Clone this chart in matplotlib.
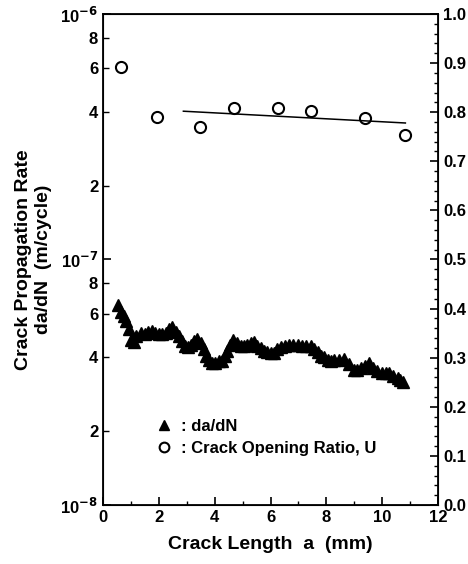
import matplotlib.pyplot as plt
import numpy as np
from matplotlib.ticker import LogLocator, MultipleLocator, FuncFormatter
from matplotlib.lines import Line2D

plt.rcParams['font.family'] = ['Liberation Sans', 'DejaVu Sans']
plt.rcParams['font.weight'] = 'bold'

# crack growth rate (triangles)
a_rate = [0.55, 0.66, 0.75, 0.84, 0.95, 1.02, 1.1, 1.2, 1.35, 1.5, 1.62, 1.75, 1.88, 2.0,
          2.12, 2.25, 2.38, 2.47, 2.6, 2.71, 2.83, 2.95, 3.05, 3.15, 3.27, 3.37, 3.5,
          3.61, 3.7, 3.79, 3.9, 4.03, 4.15, 4.27, 4.37, 4.45, 4.55, 4.67, 4.8, 4.93,
          5.05, 5.17, 5.3, 5.41, 5.53, 5.65, 5.77, 5.89, 6.01, 6.13, 6.25, 6.37, 6.52,
          6.67, 6.82, 6.97, 7.12, 7.27, 7.45, 7.57, 7.69, 7.8, 7.93, 8.05, 8.17, 8.28,
          8.45, 8.64, 8.8, 9.0, 9.1, 9.23, 9.38, 9.53, 9.68, 9.83, 10.0, 10.12, 10.25,
          10.4, 10.55, 10.65, 10.73]
dadn = [6.5, 6.1, 5.9, 5.6, 5.2, 4.7, 4.6, 4.9, 5.0, 4.95, 5.05, 5.1, 5.0, 4.95,
        4.95, 5.0, 5.2, 5.3, 5.05, 4.9, 4.65, 4.45, 4.4, 4.5, 4.65, 4.75, 4.55,
        4.3, 4.05, 3.9, 3.8, 3.8, 3.85, 3.85, 4.05, 4.25, 4.5, 4.7, 4.55, 4.45,
        4.45, 4.5, 4.55, 4.6, 4.45, 4.35, 4.25, 4.2, 4.15, 4.15, 4.3, 4.4, 4.45,
        4.5, 4.5, 4.5, 4.45, 4.45, 4.45, 4.3, 4.2, 4.05, 4.0, 3.9, 3.85, 3.9,
        3.9, 3.95, 3.75, 3.55, 3.55, 3.6, 3.7, 3.8, 3.6, 3.5, 3.45, 3.45, 3.45,
        3.35, 3.28, 3.22, 3.18]
dadn = np.array(dadn) * 1e-8

# crack opening ratio U (circles)
a_u = [0.65, 1.94, 3.49, 4.68, 6.26, 7.45, 9.39, 10.8]
u_vals = [0.892, 0.79, 0.77, 0.809, 0.809, 0.802, 0.788, 0.754]

# fitted line for U
fit_a = [2.88, 10.83]
fit_u = [0.802, 0.778]

fig = plt.figure(figsize=(4.68, 5.64), dpi=100)
ax = fig.add_axes([0.220, 0.1046, 0.716, 0.8706])
ax2 = ax.twinx()

ax.plot(a_rate, dadn, ls='none', marker='^', ms=9, color='black')
ax2.plot(a_u, u_vals, ls='none', marker='o', ms=8, mfc='white', mec='black', mew=1.5)
ax2.plot(fit_a, fit_u, color='black', lw=1.1)

ax.set_yscale('log')
ax.set_ylim(1e-8, 1e-6)
ax.set_xlim(0, 12)
ax2.set_ylim(0, 1.0)

ax.xaxis.set_major_locator(MultipleLocator(2))
ax.xaxis.set_minor_locator(MultipleLocator(1))
ax.yaxis.set_major_locator(LogLocator(base=10, numticks=5))
ax.yaxis.set_minor_locator(LogLocator(base=10, subs=[2, 4, 6, 8], numticks=20))


def major_fmt(v, pos):
    return r'10$^{%d}$' % int(round(np.log10(v)))


def minor_fmt(v, pos):
    d = int(round(v / 10 ** np.floor(np.log10(v) + 1e-9)))
    return str(d)


ax.yaxis.set_major_formatter(FuncFormatter(major_fmt))
ax.yaxis.set_minor_formatter(FuncFormatter(minor_fmt))

ax2.yaxis.set_major_locator(MultipleLocator(0.1))
ax2.yaxis.set_minor_locator(MultipleLocator(0.02))
ax2.yaxis.set_major_formatter(FuncFormatter(lambda v, p: '%.1f' % v))

ax.tick_params(axis='both', which='both', direction='in', labelsize=12, top=False)
ax.tick_params(which='major', length=6, width=1.2)
ax.tick_params(which='minor', length=3, width=1.0)
ax.tick_params(axis='y', which='minor', length=4, labelsize=12)
ax2.tick_params(axis='y', which='both', direction='in', labelsize=12)
ax2.tick_params(which='major', length=6, width=1.2)
ax2.tick_params(which='minor', length=3, width=1.0)

for s in ax.spines.values():
    s.set_linewidth(1.3)

ax.set_xlabel('Crack Length  a  (mm)', fontsize=14, fontweight='bold', labelpad=8)
ax.set_ylabel('Crack Propagation Rate\nda/dN  (m/cycle)', fontsize=14, fontweight='bold', labelpad=6)

handles = [Line2D([], [], ls='none', marker='^', ms=7, color='black'),
           Line2D([], [], ls='none', marker='o', ms=7, mfc='white', mec='black', mew=1.5)]
ax.legend(handles, [': da/dN', ': Crack Opening Ratio, U'], loc='lower left',
          bbox_to_anchor=(0.1, 0.07), frameon=False, fontsize=12,
          handletextpad=0.3, labelspacing=0.4, handlelength=1.5)

fig.savefig('out.png', dpi=100)
